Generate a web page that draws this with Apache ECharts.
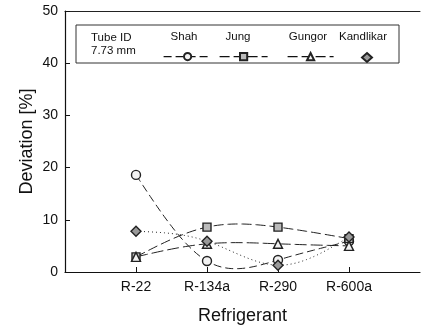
<!DOCTYPE html>
<html>
<head>
<meta charset="utf-8">
<script src="https://cdn.jsdelivr.net/npm/echarts@6/dist/echarts.min.js"></script>
<style>
html,body{margin:0;padding:0;background:#fff;}
#main{width:421px;height:330px;}
</style>
</head>
<body>
<div id="main"></div>
<script>
var refrigerants = ['R-22', 'R-134a', 'R-290', 'R-600a'];
var shah = [18.6, 2.1, 2.3, 5.9];
var jung = [2.9, 8.6, 8.6, 6.4];
var gungor = [2.9, 5.4, 5.4, 5.0];
var kandlikar = [7.8, 5.9, 1.3, 6.7];
var yTicks = [0, 10, 20, 30, 40, 50];

var font = 'Liberation Sans, Arial, sans-serif';
var chart = echarts.init(document.getElementById('main'));

// put each value at position 1..4 of the 0..5 axis
function pts(arr) {
	var out = [];
	for (var i = 0; i < arr.length; i++) {
		out.push([i + 1, arr[i]]);
	}
	return out;
}

// second derivatives of a natural cubic spline, x step = 1
function splineM(y) {
	var n = y.length, m = new Array(n).fill(0);
	if (n < 3) return m;
	var a = [], b = [], c = [], d = [];
	for (var i = 1; i < n - 1; i++) {
		a.push(1); b.push(4); c.push(1);
		d.push(6 * (y[i - 1] - 2 * y[i] + y[i + 1]));
	}
	// thomas algorithm
	for (var k = 1; k < d.length; k++) {
		var w = a[k] / b[k - 1];
		b[k] -= w * c[k - 1];
		d[k] -= w * d[k - 1];
	}
	var sol = new Array(d.length);
	sol[d.length - 1] = d[d.length - 1] / b[d.length - 1];
	for (var k = d.length - 2; k >= 0; k--) {
		sol[k] = (d[k] - c[k] * sol[k + 1]) / b[k];
	}
	for (var i = 1; i < n - 1; i++) m[i] = sol[i - 1];
	return m;
}

// curve through the points of one series, drawn with the axis scales
function curveSeries(name, arr, dash) {
	var m = splineM(arr);
	return {
		name: name + ' curve',
		type: 'custom',
		data: pts(arr),
		z: 2,
		silent: true,
		renderItem: function (params, api) {
			if (params.dataIndex !== 0) return null;
			var path = [];
			for (var i = 0; i < arr.length - 1; i++) {
				for (var s = 0; s <= 20; s++) {
					var t = s / 20;
					var v = (1 - t) * arr[i] + t * arr[i + 1] +
						((Math.pow(1 - t, 3) - (1 - t)) * m[i] + (Math.pow(t, 3) - t) * m[i + 1]) / 6;
					path.push(api.coord([i + 1 + t, v]));
				}
			}
			return {
				type: 'polyline',
				shape: { points: path },
				style: { fill: null, stroke: '#222', lineWidth: 1, lineDash: dash }
			};
		}
	};
}

function mkSeries(name, data, symbol, size, fill) {
	return {
		name: name,
		type: 'line',
		data: pts(data),
		symbol: symbol,
		symbolSize: size,
		itemStyle: { color: fill, borderColor: '#222', borderWidth: 1.4 },
		lineStyle: { color: '#333', width: 1, opacity: 0 },
		z: 3
	};
}

function mkLegend(name, cx, w, dash, icon) {
	var item = { name: name };
	if (icon) item.icon = icon;
	if (dash) item.lineStyle = { color: '#111', width: 1.2, type: dash, opacity: 1 };
	return {
		data: [item],
		left: cx - w / 2,
		top: 47,
		itemWidth: w,
		itemHeight: 9,
		formatter: function () { return ''; },
		textStyle: { fontSize: 1 },
		selectedMode: false
	};
}

var option = {
	animation: false,
	grid: { left: 65, right: 1, top: 11, bottom: 58, outerBoundsMode: 'none', containLabel: false },
	legend: [
		mkLegend('Shah', 182, 48, [8, 4]),
		mkLegend('Jung', 238, 48, [10, 4]),
		mkLegend('Gungor', 305, 46, [10, 4]),
		mkLegend('Kandlikar', 361, 10, null, 'diamond')
	],
	xAxis: [{
		type: 'value',
		min: 0,
		max: 5,
		interval: 1,
		splitLine: { show: false },
		axisLine: { lineStyle: { color: '#111', width: 1.2 } },
		axisTick: { inside: true, length: 5, customValues: [1, 2, 3, 4], lineStyle: { color: '#111' } },
		axisLabel: {
			customValues: [1, 2, 3, 4],
			formatter: function (v) { return refrigerants[v - 1] || ''; },
			color: '#111', fontSize: 14, fontFamily: font, margin: 8
		},
		name: 'Refrigerant',
		nameLocation: 'middle',
		nameGap: 35,
		nameMoveOverlap: false,
		nameTextStyle: { color: '#111', fontSize: 18, fontFamily: font, verticalAlign: 'top' }
	}, {
		type: 'value',
		position: 'top',
		min: 0,
		max: 5,
		axisLine: { show: true, lineStyle: { color: '#222', width: 1 } },
		axisTick: { show: false },
		axisLabel: { show: false },
		splitLine: { show: false }
	}],
	yAxis: {
		type: 'value',
		min: yTicks[0],
		max: yTicks[yTicks.length - 1],
		interval: 10,
		splitLine: { show: false },
		axisLine: { show: true, lineStyle: { color: '#111', width: 1.2 } },
		axisTick: { show: true, inside: true, length: 5, lineStyle: { color: '#111' } },
		axisLabel: { color: '#111', fontSize: 14, fontFamily: font, margin: 7 },
		name: 'Deviation [%]',
		nameLocation: 'middle',
		nameGap: 29,
		nameMoveOverlap: false,
		nameTextStyle: { color: '#111', fontSize: 18, fontFamily: font }
	},
	graphic: [
		{ type: 'rect', shape: { x: 76, y: 25, width: 323, height: 38 },
		  style: { fill: '#fff', stroke: '#333', lineWidth: 1 }, z: 1 },
		{ type: 'text', x: 91, y: 31, z: 2,
		  style: { text: 'Tube ID\n7.73 mm', fontSize: 11.5, fontFamily: font, fill: '#111', lineHeight: 13 } },
		{ type: 'text', x: 184, y: 31, z: 2,
		  style: { text: 'Shah', fontSize: 11.5, fontFamily: font, fill: '#111', align: 'center' } },
		{ type: 'text', x: 238, y: 31, z: 2,
		  style: { text: 'Jung', fontSize: 11.5, fontFamily: font, fill: '#111', align: 'center' } },
		{ type: 'text', x: 308, y: 31, z: 2,
		  style: { text: 'Gungor', fontSize: 11.5, fontFamily: font, fill: '#111', align: 'center' } },
		{ type: 'text', x: 363, y: 31, z: 2,
		  style: { text: 'Kandlikar', fontSize: 11.5, fontFamily: font, fill: '#111', align: 'center' } }
	],
	series: [
		curveSeries('Shah', shah, [8, 4]),
		curveSeries('Jung', jung, [10, 4]),
		curveSeries('Gungor', gungor, [12, 4]),
		curveSeries('Kandlikar', kandlikar, [1, 3]),
		mkSeries('Shah', shah, 'circle', 9, '#f2f2f2'),
		mkSeries('Jung', jung, 'rect', 8, '#bbb'),
		mkSeries('Gungor', gungor, 'triangle', 9, '#f2f2f2'),
		mkSeries('Kandlikar', kandlikar, 'diamond', 10, '#999')
	]
};

chart.setOption(option);
</script>
</body>
</html>
